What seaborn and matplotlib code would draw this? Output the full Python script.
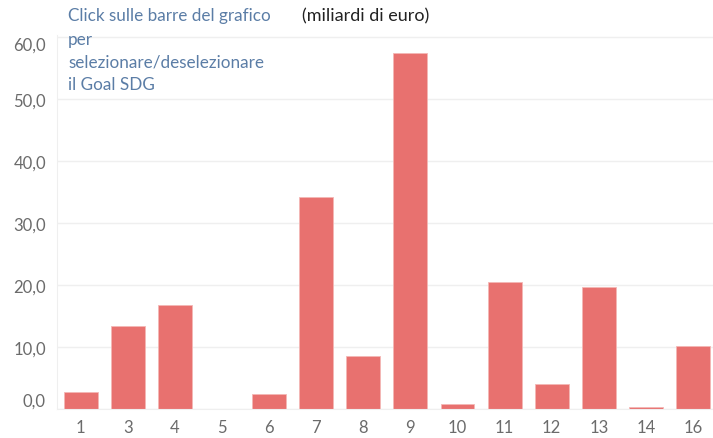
import matplotlib

matplotlib.use("Agg")
import matplotlib.pyplot as plt
import matplotlib.ticker as mticker
import numpy as np
import pandas as pd
import seaborn as sns

# obiettivi SDG e miliardi di euro
goals = ["1", "3", "4", "5", "6", "7", "8", "9", "10", "11", "12", "13", "14", "16"]
valori = [2.7, 13.4, 16.8, 0.0, 2.35, 34.2, 8.6, 57.4, 0.85, 20.5, 4.0, 19.7, 0.4, 10.1]
y_ticks = [0, 10, 20, 30, 40, 50, 60]

BAR_COLOR = "#E8716F"
GRID_COLOR = "#EFEFEF"
LABEL_COLOR = "#6B6B6B"
NOTE_COLOR = "#5B7DA6"


def main() -> None:
    sns.set_style("white")
    plt.rcParams["font.family"] = ["Lato", "DejaVu Sans"]

    df = pd.DataFrame({"goal": goals, "valore": valori})

    fig = plt.figure(figsize=(7.13, 4.39), dpi=100)
    ax = fig.add_axes([0.080, 0.066, 0.925, 0.852])

    sns.barplot(
        data=df,
        x="goal",
        y="valore",
        order=goals,
        color=BAR_COLOR,
        saturation=1,
        width=0.72,
        edgecolor="#F4B7B5",
        linewidth=0.6,
        ax=ax,
    )

    ax.set_ylim(0, 60.3)
    ax.set_xlim(-0.5, len(goals) - 0.5)
    ax.set_yticks(y_ticks)
    ax.yaxis.set_major_formatter(mticker.FuncFormatter(lambda v, p: f"{v:.1f}".replace(".", ",")))
    ax.grid(axis="y", color=GRID_COLOR, linewidth=1)
    ax.set_axisbelow(True)

    for side in ["top", "right"]:
        ax.spines[side].set_visible(False)
    ax.spines["left"].set_color(GRID_COLOR)
    ax.spines["bottom"].set_color(GRID_COLOR)

    ax.tick_params(axis="y", length=0, pad=8, labelsize=12, labelcolor=LABEL_COLOR)
    ax.tick_params(axis="x", which="major", length=0, pad=7, labelsize=12, labelcolor=LABEL_COLOR)
    ax.set_xticks(np.arange(len(goals) + 1) - 0.5, minor=True)
    ax.tick_params(axis="x", which="minor", length=5, width=1, color="#E4E4E4", direction="out")

    ylabels = ax.get_yticklabels()
    ylabels[0].set_verticalalignment("bottom")
    ylabels[-1].set_verticalalignment("top")

    ax.set_xlabel("")
    ax.set_ylabel("")

    fig.text(68 / 713, 1 - 16 / 439, "Click sulle barre del grafico", color=NOTE_COLOR,
             fontsize=12.3, va="center", ha="left")
    fig.text(302 / 713, 1 - 16 / 439, "(miliardi di euro)", color="#222222",
             fontsize=13, va="center", ha="left")
    for i, riga in enumerate(["per", "selezionare/deselezionare", "il Goal SDG"]):
        fig.text(68 / 713, 1 - (40 + 22.5 * i) / 439, riga, color=NOTE_COLOR,
                 fontsize=12.3, va="center", ha="left")

    fig.savefig("out.png", dpi=100)
    plt.close(fig)


if __name__ == "__main__":
    main()
